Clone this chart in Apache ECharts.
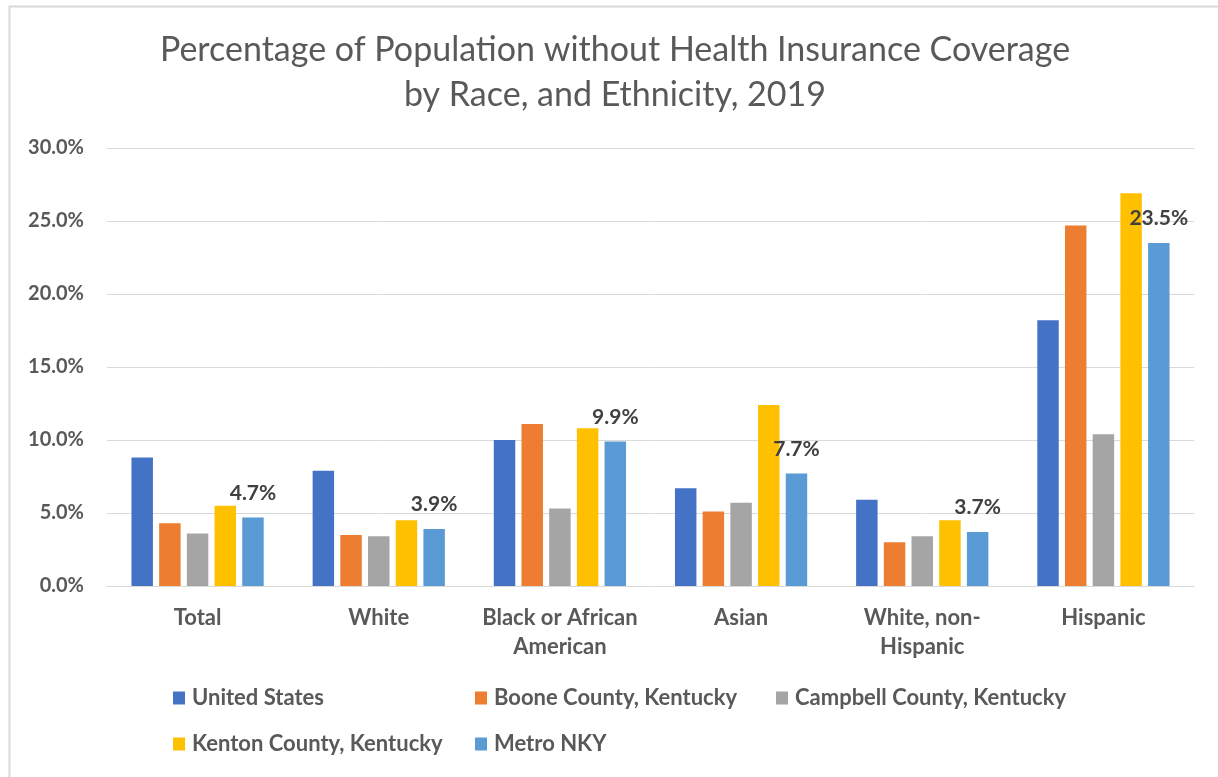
<!DOCTYPE html>
<html>
<head>
<meta charset="utf-8">
<script src="https://cdn.jsdelivr.net/npm/echarts@6/dist/echarts.min.js"></script>
<style>
html,body{margin:0;padding:0;background:#fff;}
#chart{width:1218px;height:777px;}
</style>
</head>
<body>
<div id="chart"></div>
<script>
const titleLines = ['Percentage of Population without Health Insurance Coverage', 'by Race, and Ethnicity, 2019'];
const categories = ['Total', 'White', 'Black or African\nAmerican', 'Asian', 'White, non-\nHispanic', 'Hispanic'];
const seriesNames = ['United States', 'Boone County, Kentucky', 'Campbell County, Kentucky', 'Kenton County, Kentucky', 'Metro NKY'];
const unitedStates = [8.8, 7.9, 10.0, 6.7, 5.9, 18.2];
const booneCounty = [4.3, 3.5, 11.1, 5.1, 3.0, 24.7];
const campbellCounty = [3.6, 3.4, 5.3, 5.7, 3.4, 10.4];
const kentonCounty = [5.5, 4.5, 10.8, 12.4, 4.5, 26.9];
const metroNKY = [4.7, 3.9, 9.9, 7.7, 3.7, 23.5];
const yTicks = {min: 0, max: 30, interval: 5};

const colors = ['#4472C4', '#ED7D31', '#A5A5A5', '#FFC000', '#5B9BD5'];
const values = [unitedStates, booneCounty, campbellCounty, kentonCounty, metroNKY];
const FONT = 'Lato, "Open Sans", sans-serif';
const TXT = '#595959';

const legendPos = [
  {left: 173, top: 687}, {left: 475, top: 687}, {left: 776, top: 687},
  {left: 173, top: 733}, {left: 475, top: 733}
];

const chart = echarts.init(document.getElementById('chart'), null, {renderer: 'canvas'});
chart.setOption({
  backgroundColor: '#fff',
  animation: false,
  color: colors,
  graphic: [{
    type: 'rect', left: 7, top: 4,
    shape: {width: 1300, height: 900},
    style: {fill: 'none', stroke: '#d9d9d9', lineWidth: 2},
    silent: true, z: -1
  }],
  title: {
    text: titleLines.join('\n'),
    left: 615,
    textAlign: 'center',
    top: 28,
    textStyle: {fontFamily: FONT, fontSize: 34, fontWeight: 'normal', color: TXT, lineHeight: 45},
    padding: 0
  },
  legend: legendPos.map((p, i) => ({
    data: [seriesNames[i]],
    left: p.left, top: p.top,
    icon: 'rect', itemWidth: 12, itemHeight: 13, itemGap: 0,
    padding: 0,
    textStyle: {fontFamily: FONT, fontSize: 22, fontWeight: 'bold', color: TXT, padding: [0, 0, 0, 2]}
  })),
  grid: {left: 107, right: 24, top: 148, bottom: 191, containLabel: false},
  xAxis: {
    type: 'category',
    data: categories,
    axisLine: {lineStyle: {color: '#d9d9d9', width: 1}},
    axisTick: {show: false},
    axisLabel: {fontFamily: FONT, fontSize: 22, fontWeight: 'bold', color: TXT, margin: 17, lineHeight: 29, interval: 0}
  },
  yAxis: {
    type: 'value',
    min: yTicks.min, max: yTicks.max, interval: yTicks.interval,
    axisLine: {show: false},
    axisTick: {show: false},
    splitLine: {lineStyle: {color: '#d9d9d9', width: 1}},
    axisLabel: {
      fontFamily: FONT, fontSize: 20, fontWeight: 'bold', color: TXT, margin: 23,
      formatter: v => v.toFixed(1) + '%'
    }
  },
  series: seriesNames.map((name, i) => ({
    name,
    type: 'bar',
    data: values[i],
    barGap: '29%',
    barCategoryGap: '27%',
    itemStyle: {color: colors[i]},
    label: i === 4 ? {
      show: true, position: 'top', distance: 14,
      fontFamily: FONT, fontSize: 21, fontWeight: 'bold', color: '#404040',
      formatter: p => p.value.toFixed(1) + '%'
    } : {show: false}
  }))
});
</script>
</body>
</html>
